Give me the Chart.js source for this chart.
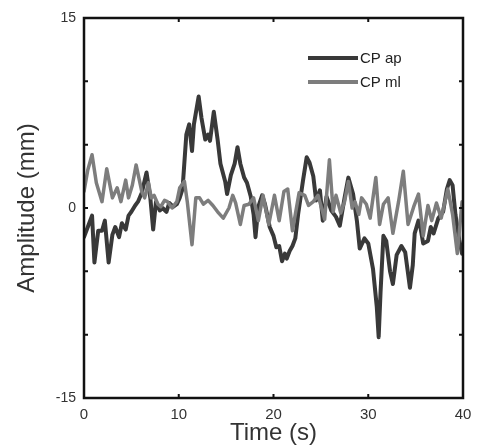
<!DOCTYPE html>
<html>
<head>
<meta charset="utf-8">
<script src="https://cdn.jsdelivr.net/npm/chart.js@4/dist/chart.umd.min.js"></script>
<style>
html,body{margin:0;padding:0;background:#fff;}
#wrap{width:480px;height:446px;position:relative;}
</style>
</head>
<body>
<div id="wrap"><canvas id="c" width="480" height="446"></canvas></div>
<script>
// ---- data ----
const seriesNames = ["CP ap", "CP ml"];
const xTickLabels = [0, 10, 20, 30, 40];
const yTickLabels = [-15, 0, 15];

const apTime = [0,0.4,0.85,1.1,1.5,1.9,2.2,2.6,3.0,3.3,3.7,4.0,4.4,4.7,5.0,5.4,5.7,6.1,6.6,7.0,7.3,7.6,8.0,8.3,8.7,9.0,9.4,9.8,10.1,10.4,10.8,11.1,11.4,11.6,12.1,12.4,12.8,13.1,13.3,13.7,14.1,14.4,14.9,15.1,15.5,15.9,16.2,16.5,16.9,17.2,17.6,17.9,18.1,18.4,18.8,19.1,19.6,20.0,20.3,20.6,20.9,21.2,21.4,21.7,22.0,22.3,22.6,23.1,23.5,23.8,24.2,24.5,24.9,25.2,25.6,26.1,26.6,27.0,27.5,27.9,28.4,28.8,29.1,29.6,30.0,30.5,30.9,31.1,31.3,31.6,31.9,32.3,32.6,33.0,33.5,33.9,34.4,34.7,34.9,35.3,35.5,35.8,36.3,36.6,36.9,37.4,37.9,38.3,38.6,38.9,39.2,39.6,39.9];
const apValues = [-2.3,-1.5,-0.6,-4.3,-1.8,-1.8,-1.0,-4.3,-2.1,-1.5,-2.3,-1.2,-1.7,-0.6,-0.3,0.2,0.5,1.2,2.8,0.8,-1.7,0.5,-0.2,0.0,-0.3,0.4,0.1,0.3,0.8,1.5,5.8,6.6,4.5,6.6,8.8,7.1,5.4,5.8,5.3,7.6,5.4,3.5,2.1,1.1,2.6,3.5,4.8,3.5,2.4,2.0,0.9,-0.5,-2.3,0.1,1.0,0.3,-1.5,-2.2,-3.1,-3.0,-4.2,-3.6,-4.0,-3.4,-3.0,-2.4,-0.5,2.1,4.0,3.6,2.5,0.6,1.4,-1.0,0.9,-0.2,-0.7,-1.4,0.8,2.4,1.1,-1.0,-3.2,-2.4,-2.8,-4.8,-7.8,-10.2,-6.6,-2.2,-2.6,-5.0,-6.0,-3.7,-3.0,-3.5,-6.3,-4.5,-2.0,-1.0,-1.5,-2.8,-2.6,-1.5,-2.0,-0.8,-0.3,1.5,2.2,1.8,-0.5,-2.5,-3.6];

const mlTime = [0,0.4,0.85,1.3,1.9,2.4,3.0,3.5,3.9,4.4,4.7,5.1,5.5,6.1,6.4,6.8,7.1,7.4,7.8,8.1,8.5,8.8,9.3,9.8,10.1,10.6,10.9,11.4,11.8,12.2,12.6,13.1,13.6,14.1,14.7,15.3,15.7,16.0,16.5,16.9,17.4,17.9,18.4,18.9,19.5,20.1,20.6,21.1,21.5,22.0,22.7,23.3,23.7,24.2,24.7,25.4,25.9,26.3,26.6,27.1,27.5,27.9,28.3,28.6,29.0,29.3,29.8,30.2,30.8,31.2,31.6,32.1,32.6,33.2,33.7,34.2,34.8,35.3,35.8,36.3,36.7,37.2,37.7,38.4,38.9,39.4,39.9];
const mlValues = [1.3,3.0,4.2,2.0,0.5,3.1,0.8,1.6,0.5,2.2,0.8,1.8,3.4,1.3,0.8,2.0,0.8,1.0,0.3,0.1,0.6,0.5,0.0,0.5,1.6,2.1,0.5,-2.9,0.8,0.8,0.3,0.6,0.2,-0.3,-0.8,0.0,1.0,0.4,-1.3,0.2,0.3,0.8,-1.0,1.0,-1.3,1.0,-1.0,1.3,1.5,-1.8,1.2,1.0,0.2,0.5,1.0,-0.9,3.8,-0.3,1.0,-0.4,0.5,2.1,0.0,0.5,-0.5,0.8,0.3,-0.8,2.4,-1.3,0.3,0.8,-2.0,0.5,2.9,-1.3,0.1,1.1,-2.2,0.2,-1.0,0.4,-0.8,1.5,-0.5,-3.6,0.5];

// ---- styling ----
const apColor = "#393939";
const mlColor = "#7d7d7d";
const textColor = "#333333";
const FONT = "'Liberation Sans', Arial, sans-serif";

function pairs(xs, ys){ return xs.map((x,i)=>({x:x, y:ys[i]})); }

const boxPlugin = {
  id: "boxPlugin",
  afterDatasetsDraw(chart){
    const {ctx, chartArea:a, scales} = chart;
    ctx.save();
    ctx.strokeStyle = "#111";
    ctx.lineWidth = 2.5;
    ctx.strokeRect(a.left, a.top, a.right-a.left, a.bottom-a.top);
    ctx.lineWidth = 2;
    const tl = 4;
    for (let v=-15; v<=15; v+=5){
      const y = scales.y.getPixelForValue(v);
      ctx.beginPath();
      ctx.moveTo(a.left, y); ctx.lineTo(a.left+tl, y);
      ctx.moveTo(a.right, y); ctx.lineTo(a.right-tl, y);
      ctx.stroke();
    }
    for (let v=0; v<=40; v+=10){
      const x = scales.x.getPixelForValue(v);
      ctx.beginPath();
      ctx.moveTo(x, a.bottom); ctx.lineTo(x, a.bottom-tl);
      ctx.moveTo(x, a.top); ctx.lineTo(x, a.top+tl);
      ctx.stroke();
    }
    // legend (inside, top right)
    const items = [
      {label: chart.data.datasets[0].label, color: apColor, w: 4},
      {label: chart.data.datasets[1].label, color: mlColor, w: 4}
    ];
    ctx.font = "15px " + FONT;
    ctx.textBaseline = "middle";
    ctx.textAlign = "left";
    items.forEach((it, i) => {
      const y = 58 + i*24;
      ctx.strokeStyle = it.color;
      ctx.lineWidth = it.w;
      ctx.beginPath(); ctx.moveTo(308, y); ctx.lineTo(358, y); ctx.stroke();
      ctx.fillStyle = "#222";
      ctx.fillText(it.label, 360, y+1);
    });
    ctx.restore();
  }
};

new Chart(document.getElementById("c"), {
  type: "line",
  data: {
    datasets: [
      {label: seriesNames[0], data: pairs(apTime, apValues), borderColor: apColor, borderWidth: 4, pointRadius: 0, tension: 0, borderJoinStyle: "round", borderCapStyle: "round", order: 1},
      {label: seriesNames[1], data: pairs(mlTime, mlValues), borderColor: mlColor, borderWidth: 3.5, pointRadius: 0, tension: 0, borderJoinStyle: "round", borderCapStyle: "round", order: 0}
    ]
  },
  options: {
    responsive: false,
    animation: false,
    events: [],
    layout: {padding: {left: 0, right: 17, top: 18, bottom: 0}},
    plugins: {legend: {display: false}, tooltip: {enabled: false}},
    scales: {
      x: {
        type: "linear", min: 0, max: 40,
        grid: {display: false, drawTicks: false},
        border: {display: false},
        afterBuildTicks(s){ s.ticks = xTickLabels.map(v=>({value:v})); },
        ticks: {padding: 8, color: textColor, font: {family: FONT, size: 15}, maxRotation: 0, autoSkip: false},
        title: {display: true, text: "Time (s)", color: textColor, font: {family: FONT, size: 24, lineHeight: 1}, padding: {top: 0, bottom: 1}},
        afterFit(s){ s.height = 48; }
      },
      y: {
        type: "linear", min: -15, max: 15,
        grid: {display: false, drawTicks: false},
        border: {display: false},
        afterBuildTicks(s){ s.ticks = yTickLabels.map(v=>({value:v})); },
        ticks: {padding: 8, color: textColor, font: {family: FONT, size: 14}, autoSkip: false},
        title: {display: true, text: "Amplitude (mm)", color: textColor, font: {family: FONT, size: 24, lineHeight: 1}, padding: {top: 15, bottom: 0}},
        afterFit(s){ s.width = 84; }
      }
    }
  },
  plugins: [boxPlugin]
});
</script>
</body>
</html>
